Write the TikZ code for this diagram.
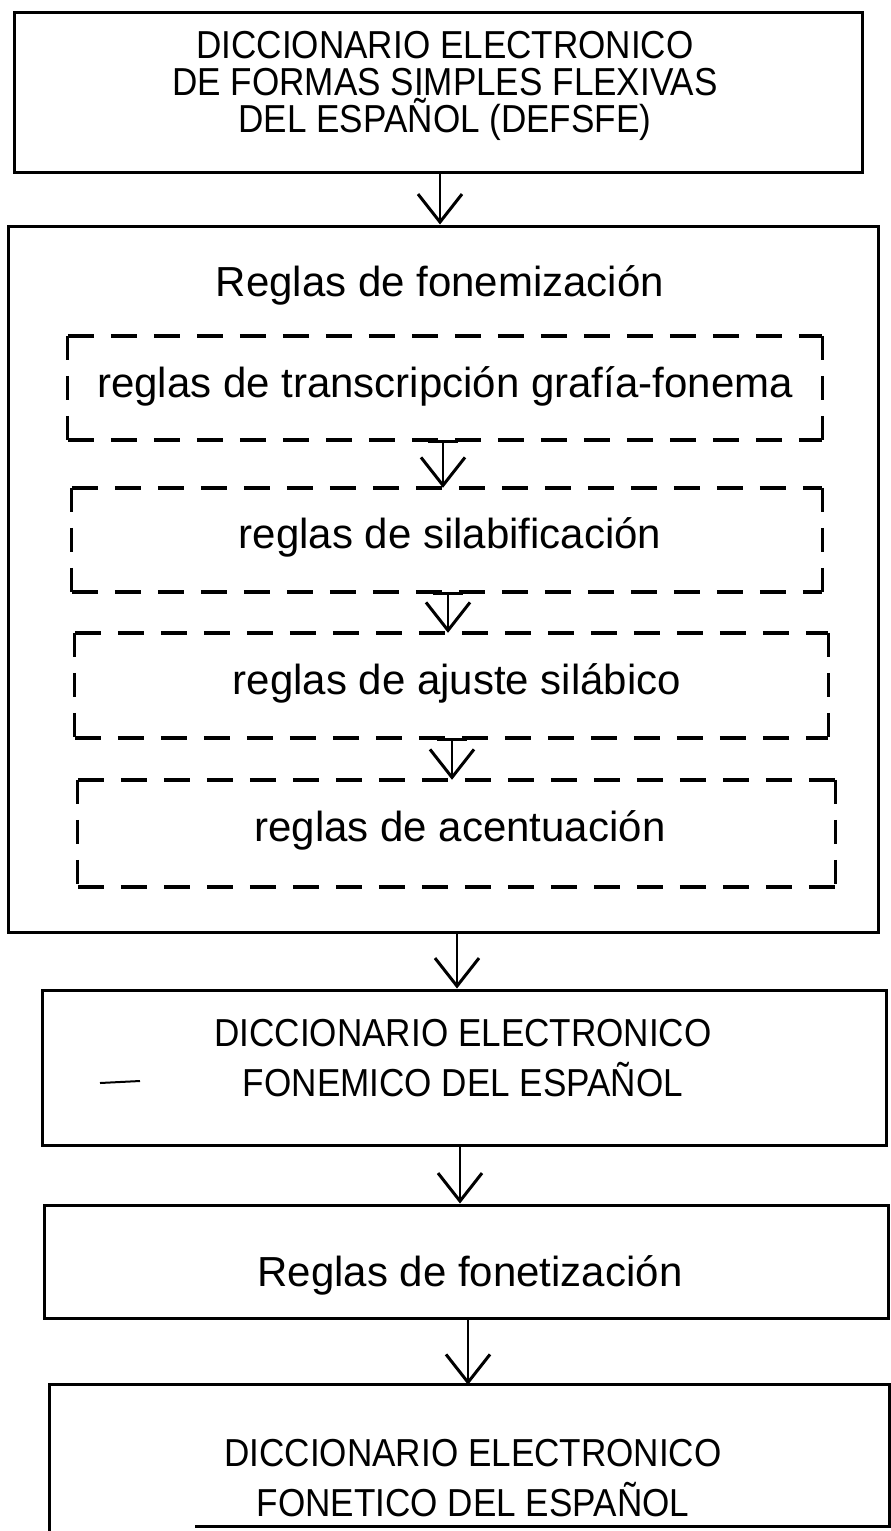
\documentclass[tikz,border=0pt]{standalone}
\usepackage{fontspec}
\setmainfont{Liberation Sans}
\newfontfamily\capsfont[FakeStretch=0.9]{Liberation Sans}
\usetikzlibrary{arrows.meta}
\tikzset{
  box/.style={draw, line width=3pt, rectangle, inner sep=0pt},
  dbox/.style={rectangle, inner sep=0pt},
  dline/.style={line width=3.5pt, dash pattern=on 26pt off 17pt},
  vline/.style={line width=3pt, dash pattern=on 24pt off 16pt},
  arr/.style={line width=2pt, -{Straight Barb[length=28pt,width=44pt,line width=3pt]}},
  tarr/.style={line width=2pt, {Bar[width=30pt,line width=3pt]}-{Straight Barb[length=28pt,width=44pt,line width=3pt]}},
  caps/.style={font=\capsfont\fontsize{39}{37}\selectfont, align=center, inner sep=0pt},
  caps2/.style={font=\capsfont\fontsize{39}{50}\selectfont, align=center, inner sep=0pt},
  lower/.style={font=\fontsize{42}{44}\selectfont, inner sep=0pt},
}
\newcommand\mydashbox[1]{%
  \draw[dline] (#1.north west) -- (#1.north east);
  \draw[dline] (#1.south west) -- (#1.south east);
  \draw[vline] (#1.north west) -- (#1.south west);
  \draw[vline] (#1.north east) -- (#1.south east);
}
\begin{document}
\begin{tikzpicture}[x=1pt,y=-1pt]
  \useasboundingbox (0,0) rectangle (891,1531);
  % main boxes
  \node[box, minimum width=848pt, minimum height=160pt] (top) at (438,92) {};
  \node[caps] (toptxt) at (445,86) {DICCIONARIO ELECTRONICO\\DE FORMAS SIMPLES FLEXIVAS\\DEL ESPAÑOL (DEFSFE)};

  \node[box, minimum width=870pt, minimum height=706pt] (big) at (443,579) {};
  \node[lower] (bigtxt) at (440,285) {Reglas de fonemización};

  \node[dbox, minimum width=754pt, minimum height=104pt] (d1) at (445,388) {};
  \node[lower] (d1txt) at (445,386) {reglas de transcripción grafía-fonema};
  \node[dbox, minimum width=750pt, minimum height=104pt] (d2) at (447,540) {};
  \node[lower] (d2txt) at (450,537) {reglas de silabificación};
  \node[dbox, minimum width=753pt, minimum height=105pt] (d3) at (451.5,685.5) {};
  \node[lower] (d3txt) at (457,683) {reglas de ajuste silábico};
  \node[dbox, minimum width=757pt, minimum height=107pt] (d4) at (456.5,833.5) {};
  \node[lower] (d4txt) at (460,830) {reglas de acentuación};
  \mydashbox{d1}
  \mydashbox{d2}
  \mydashbox{d3}
  \mydashbox{d4}

  \node[box, minimum width=844pt, minimum height=155pt] (fonem) at (464,1067.5) {};
  \node[caps2] (fonemtxt) at (463,1058) {DICCIONARIO ELECTRONICO\\FONEMICO DEL ESPAÑOL};
  \coordinate (m1) at (100,1083);
  \coordinate (m2) at (140,1081);
  \draw[line width=2pt] (m1) -- (m2);

  \node[box, minimum width=844pt, minimum height=113pt] (fonet) at (466,1261.5) {};
  \node[lower] (fonettxt) at (470,1275) {Reglas de fonetización};

  \node[dbox, minimum width=839pt, minimum height=141pt] (fin) at (469.5,1455.5) {};
  \coordinate (fb) at (195,0);
  \draw[line width=3pt] (fin.south west) ++(0,5) -- (fin.north west) -- (fin.north east) -- (fin.south east) -- (fin.south -| fb);
  \node[caps2] (fintxt) at (473,1478) {DICCIONARIO ELECTRONICO\\FONETICO DEL ESPAÑOL};

  % arrow x positions
  \coordinate (a1) at (440,0);
  \coordinate (a2) at (443,0);
  \coordinate (a3) at (448,0);
  \coordinate (a4) at (452,0);
  \coordinate (a5) at (457,0);
  \coordinate (a6) at (460,0);
  \coordinate (a7) at (468,0);
  \draw[arr] (top.south -| a1) -- (big.north -| a1);
  \draw[tarr] (d1.south -| a2) -- (d2.north -| a2);
  \draw[tarr] (d2.south -| a3) -- (d3.north -| a3);
  \draw[tarr] (d3.south -| a4) -- (d4.north -| a4);
  \draw[arr] (big.south -| a5) -- (fonem.north -| a5);
  \draw[arr] (fonem.south -| a6) -- (fonet.north -| a6);
  \draw[arr] (fonet.south -| a7) -- (fin.north -| a7);
\end{tikzpicture}
\end{document}
